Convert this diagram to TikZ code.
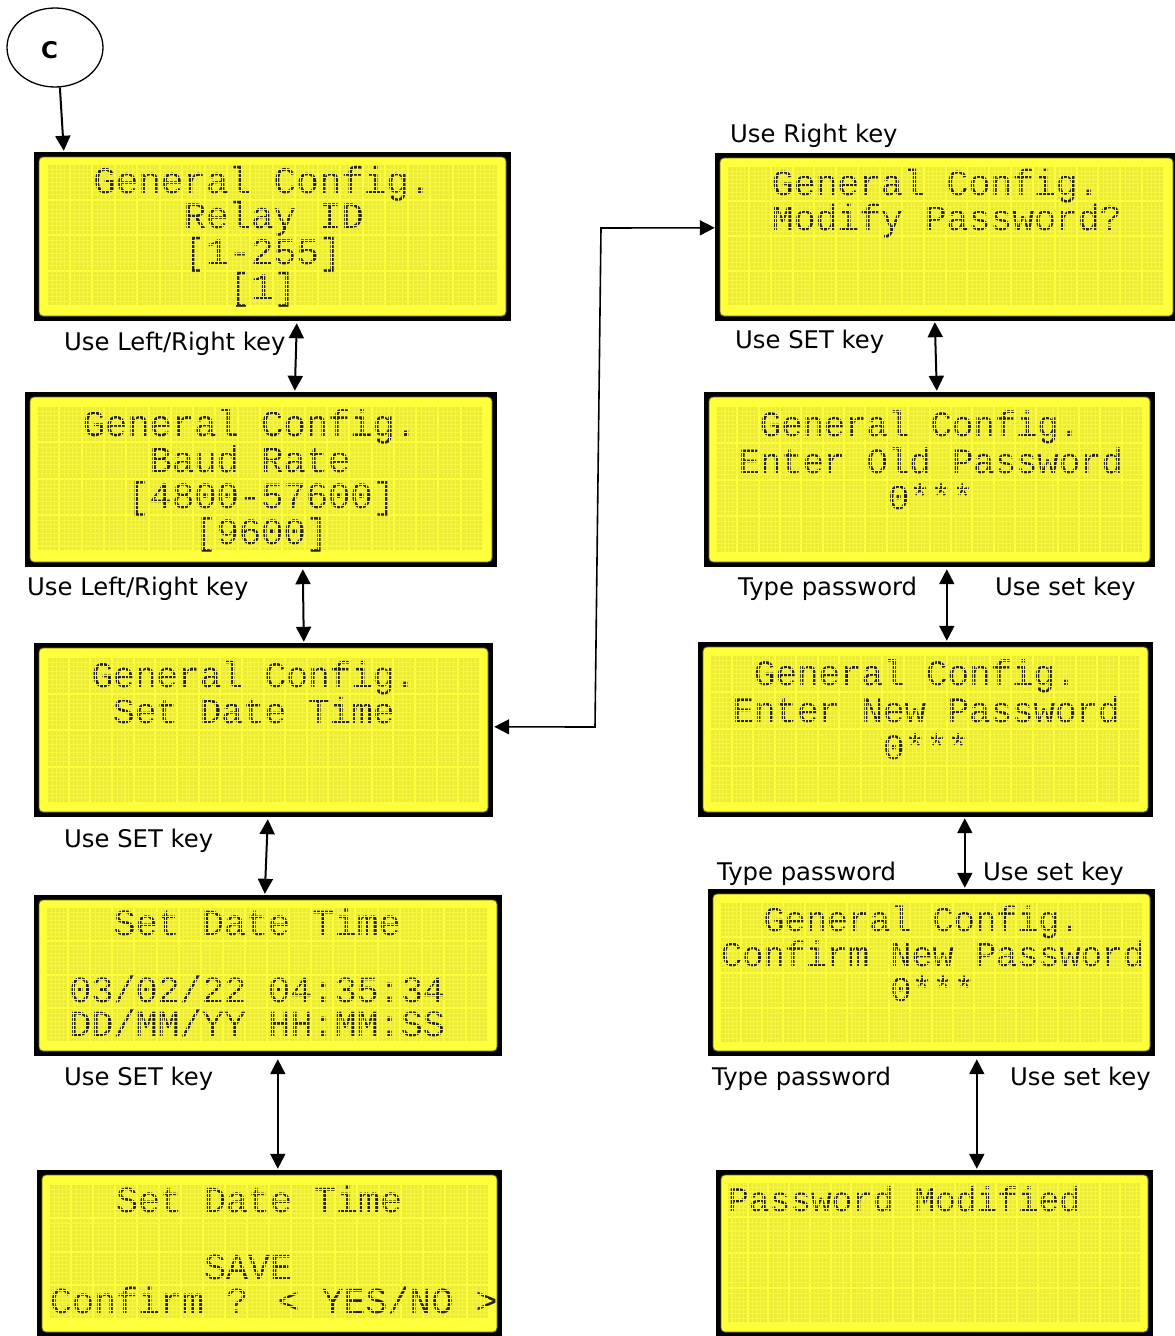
\documentclass[tikz,border=0pt]{standalone}
\usepackage{fontspec}
\setmainfont{DejaVu Sans}
\newfontfamily\lcdfont{Liberation Mono}
\usetikzlibrary{arrows.meta,calc,shapes.geometric}
\definecolor{lcdbg}{RGB}{255,255,60}
\definecolor{lcdcell}{RGB}{236,236,56}
\definecolor{lcdgline}{RGB}{247,247,64}
\definecolor{lcdedge}{RGB}{110,110,20}
\definecolor{lcdink}{RGB}{35,35,18}
\tikzset{
  lcdouter/.style={rectangle, fill=black, draw=none, inner sep=0pt},
  lcdtxt/.style={anchor=base west, inner sep=0pt, text=lcdink},
  lbl/.style={anchor=base west, inner sep=0pt, font=\fontsize{24.3}{29}\selectfont},
  conn/.style={line width=2pt, {Triangle[length=15pt,width=15pt]}-{Triangle[length=15pt,width=15pt]}},
  oneway/.style={line width=2pt, -{Triangle[length=15pt,width=15pt]}},
  lcdgl/.style={draw=lcdgline, line width=0.5pt},
  lcdov/.style={draw=lcdgline, line width=0.45pt}
}
\newcount\lcdn
\newcommand\lcdbox[9]{%
  \node[lcdouter, minimum width={#4-#2}, minimum height={#5-#3}] (#1) at ({(#2+#4)/2},{(#3+#5)/2}) {};
  \filldraw[fill=lcdbg, draw=lcdedge, line width=0.8pt, rounded corners=4pt] (#2+5,#3+5) rectangle (#4-5,#5-5);
  \pgfmathsetmacro\lgx{#6}\pgfmathsetmacro\lgy{#7}%
  \pgfmathsetmacro\lpx{(#8-#6+2)/20}\pgfmathsetmacro\lpy{(#9-#7+2)/4}%
  \pgfmathsetmacro\lfs{\lpx/0.6}%
  \foreach \i in {0,...,19}{\foreach \j in {0,...,3}{%
     \fill[lcdcell] ({\lgx+\i*\lpx},{\lgy+\j*\lpy}) rectangle ++({\lpx-2},{\lpy-2});}}%
  \foreach \i in {0,...,19}{\foreach \k in {1,...,4}{%
     \draw[lcdgl] ({\lgx+\i*\lpx+\k*(\lpx-2)/5},\lgy) -- ++(0,{4*\lpy-2});}}%
  \foreach \j in {0,...,3}{\foreach \k in {1,...,7}{%
     \draw[lcdgl] (\lgx,{\lgy+\j*\lpy+\k*(\lpy-2)/8}) -- ++({20*\lpx-2},0);}}%
}
% light dot-grid drawn over the characters, giving them a dot-matrix look
\newcommand\lcddots{%
  \foreach \i in {0,...,19}{\foreach \k in {1,...,4}{%
     \draw[lcdov] ({\lgx+\i*\lpx+\k*(\lpx-2)/5},\lgy) -- ++(0,{4*\lpy-2});}}%
  \foreach \j in {0,...,3}{\foreach \k in {1,...,7}{%
     \draw[lcdov] (\lgx,{\lgy+\j*\lpy+\k*(\lpy-2)/8}) -- ++({20*\lpx-2},0);}}%
}
\newcommand\lcdtext[3]{%
  \global\advance\lcdn by 1
  \node[lcdtxt, font=\lcdfont\fontsize{\lfs}{\lfs}\selectfont] (lcdt\the\lcdn) at ({\lgx+#1*\lpx},{\lgy+#2*\lpy+0.8*\lpy}) {#3};}
\begin{document}
\begin{tikzpicture}[x=1pt,y=-1pt]
\useasboundingbox (0,0) rectangle (1175,1336);
\fill[white] (0,0) rectangle (1175,1336);

% start circle
\node[draw, ellipse, line width=1.3pt, minimum width=96pt, minimum height=79pt, inner sep=0pt] (C) at (55,47.5) {};
\node[font=\bfseries\fontsize{23}{27}\selectfont, inner sep=0pt] (Ct) at (49.5,50) {C};

% left column
\lcdbox{b1}{34}{152}{511}{321}{48}{165}{497}{305}
\lcdtext{2}{0}{General Config.}
\lcdtext{6}{1}{Relay ID}
\lcdtext{6}{2}{[1-255]}
\lcdtext{8}{3}{[1]}
\lcddots

\lcdbox{b2}{25}{392}{497}{567}{38}{407}{482}{550}
\lcdtext{2}{0}{General Config.}
\lcdtext{5}{1}{Baud Rate}
\lcdtext{4}{2}{[4800-57600]}
\lcdtext{7}{3}{[9600]}
\lcddots

\lcdbox{b3}{34}{643}{493}{817}{48}{658}{479}{802}
\lcdtext{2}{0}{General Config.}
\lcdtext{3}{1}{Set Date Time}
\lcddots

\lcdbox{b4}{34}{895}{502}{1056}{47}{908}{487}{1041}
\lcdtext{3}{0}{Set Date Time}
\lcdtext{1}{2}{03/02/22 04:35:34}
\lcdtext{1}{3}{DD/MM/YY HH:MM:SS}
\lcddots

\lcdbox{b5}{37}{1170}{502}{1337}{50}{1185}{488}{1318}
\lcdtext{3}{0}{Set Date Time}
\lcdtext{7}{2}{SAVE}
\lcdtext{0}{3}{Confirm ? < YES/NO >}
\lcddots

% right column
\lcdbox{r1}{715}{153}{1178}{321}{728}{167}{1163}{305}
\lcdtext{2}{0}{General Config.}
\lcdtext{2}{1}{Modify Password?}
\lcddots

\lcdbox{r2}{704}{392}{1155}{567}{717}{407}{1142}{552}
\lcdtext{2}{0}{General Config.}
\lcdtext{1}{1}{Enter Old Password}
\lcdtext{8}{2}{0***}
\lcddots

\lcdbox{r3}{698}{642}{1153}{817}{711}{656}{1139}{802}
\lcdtext{2}{0}{General Config.}
\lcdtext{1}{1}{Enter New Password}
\lcdtext{8}{2}{0***}
\lcddots

\lcdbox{r4}{708}{889}{1155}{1056}{721}{903}{1142}{1042}
\lcdtext{2}{0}{General Config.}
\lcdtext{0}{1}{Confirm New Password}
\lcdtext{8}{2}{0***}
\lcddots

\lcdbox{r5}{716}{1170}{1153}{1337}{728}{1183}{1140}{1322}
\lcdtext{0}{0}{Password Modified}
\lcddots

% labels
\node[lbl] (l1) at (64,350) {Use Left/Right key};
\node[lbl] (l2) at (27,595) {Use Left/Right key};
\node[lbl] (l3) at (64,847) {Use SET key};
\node[lbl] (l4) at (64,1085) {Use SET key};
\node[lbl] (l5) at (730,142) {Use Right key};
\node[lbl] (l6) at (735,348) {Use SET key};
\node[lbl] (l7) at (738,595) {Type password};
\node[lbl] (l8) at (995,595) {Use set key};
\node[lbl] (l9) at (717,880) {Type password};
\node[lbl] (l10) at (983,880) {Use set key};
\node[lbl] (l11) at (712,1085) {Type password};
\node[lbl] (l12) at (1010,1085) {Use set key};

% connectors
\draw[oneway] (C.-83) -- ($(b1.north west)+(30,-1)$);
\draw[conn] ($(b1.south west)+(263,2)$) -- ($(b2.north west)+(270,-1)$);
\draw[conn] ($(b2.south west)+(278,2)$) -- ($(b3.north west)+(270,-1)$);
\draw[conn] ($(b3.south west)+(234,2)$) -- ($(b4.north west)+(231,-1)$);
\draw[conn] ($(b4.south west)+(244,3)$) -- ($(b5.north west)+(241,-1)$);
\draw[conn] ($(r1.south west)+(220,1)$) -- ($(r2.north west)+(233,-1)$);
\draw[conn] ($(r2.south west)+(243,2)$) -- ($(r3.north west)+(249,-1)$);
\draw[conn] ($(r3.south west)+(267,1)$) -- ($(r4.north west)+(257,-1)$);
\draw[conn] ($(r4.south west)+(269,3)$) -- ($(r5.north west)+(261,-1)$);
\coordinate (e1) at (595,727);
\coordinate (e2) at (601,228);
\draw[line width=1.6pt, {Triangle[length=15pt,width=15pt]}-{Triangle[length=15pt,width=15pt]}]
  ($(b3.north east)+(1,84)$) -- (e1) -- (e2) -- ($(r1.north west)+(0,75)$);
\end{tikzpicture}
\end{document}
